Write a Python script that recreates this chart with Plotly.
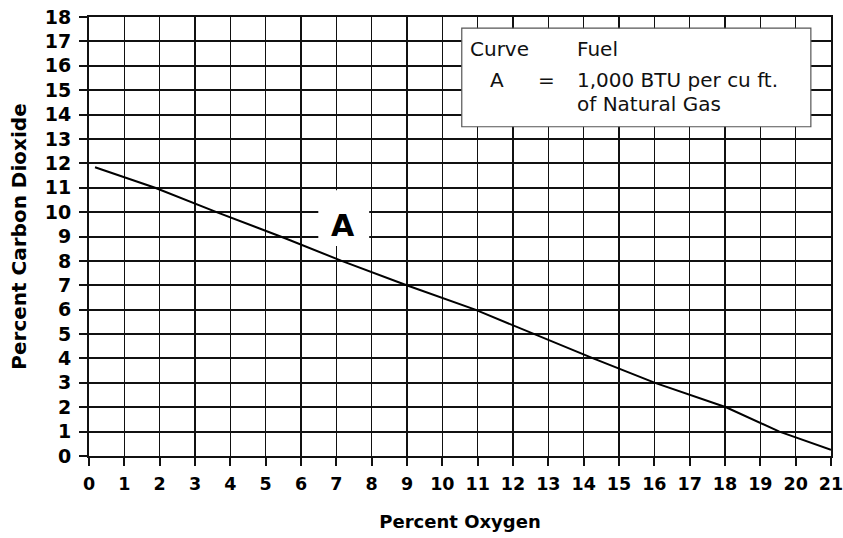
import plotly.graph_objects as go

# Data
oxygen = [0.17, 1.87, 3.61, 5.55, 7.15, 8.99, 10.93, 12.62, 14.27, 16.02, 18.03, 19.54, 21.0]
co2 = [11.84, 11.0, 10.0, 8.93, 8.0, 7.0, 6.0, 5.0, 4.0, 3.0, 2.0, 1.0, 0.25]
x_ticks = list(range(0, 22))
y_ticks = list(range(0, 19))
legend_rows = ["Curve", "A", "=", "Fuel", "1,000 BTU per cu ft.", "of Natural Gas"]
curve_label = "A"

W, H = 843, 538
L, R, T, B = 89, 12, 17, 82

fig = go.Figure()
fig.add_trace(go.Scatter(x=oxygen, y=co2, mode="lines",
                         line=dict(color="#000000", width=2), hoverinfo="skip",
                         showlegend=False))

font_family = "DejaVu Sans, Verdana, sans-serif"

fig.update_layout(
    width=W, height=H,
    margin=dict(l=L, r=R, t=T, b=B, pad=0, autoexpand=False),
    paper_bgcolor="white", plot_bgcolor="white",
    font=dict(family=font_family, color="#000000"),
    xaxis=dict(range=[0, 21], tickvals=x_ticks, ticktext=[str(v) for v in x_ticks],
               showgrid=True, gridcolor="#111111", gridwidth=1.5,
               zeroline=False, showline=True, mirror=True, linecolor="#111111", linewidth=2,
               ticks="outside", ticklen=8, tickwidth=2, tickcolor="#111111",
               ticklabelstandoff=3, ticklabeloverflow="allow",
               tickfont=dict(size=17.5, family=font_family, weight="bold", color="#000000"),
               title=dict(text="<b>Percent Oxygen</b>", font=dict(size=18, color="#000000"), standoff=22),
               automargin=False, fixedrange=True),
    yaxis=dict(range=[0, 18], tickvals=y_ticks, ticktext=[str(v) for v in y_ticks],
               showgrid=True, gridcolor="#111111", gridwidth=2,
               zeroline=False, showline=True, mirror=True, linecolor="#111111", linewidth=2,
               ticks="outside", ticklen=8, tickwidth=2, tickcolor="#111111",
               ticklabelstandoff=4, ticklabeloverflow="allow",
               tickfont=dict(size=19, family=font_family, weight="bold", color="#000000"),
               title=dict(text="<b>Percent Carbon Dioxide</b>", font=dict(size=20, color="#000000"), standoff=13),
               automargin=False, fixedrange=True),
)

# Legend box
fig.add_shape(type="rect", xref="x", yref="y", x0=10.55, x1=20.43, y0=13.5, y1=17.54,
              fillcolor="white", line=dict(color="#555555", width=1.2), layer="above")
# Curve label background
fig.add_shape(type="rect", xref="x", yref="y", x0=6.49, x1=7.93, y0=8.61, y1=10.9,
              fillcolor="white", line=dict(width=0), layer="above")

leg_font = dict(size=20, family=font_family, color="#111111")
PW = W - L - R
PH = H - T - B
def px2x(px):
    return (px - L) / (PW / 21)
def py2y(py):
    return (H - B - py) / (PH / 18)

fig.add_annotation(x=px2x(467.5), y=py2y(49), text=legend_rows[0], xanchor="left", yanchor="middle",
                   showarrow=False, font=leg_font)
fig.add_annotation(x=px2x(497), y=py2y(80), text=legend_rows[1], xanchor="center", yanchor="middle",
                   showarrow=False, font=leg_font)
fig.add_annotation(x=px2x(546), y=py2y(80), text=legend_rows[2], xanchor="center", yanchor="middle",
                   showarrow=False, font=leg_font)
fig.add_annotation(x=px2x(575), y=py2y(49), text=legend_rows[3], xanchor="left", yanchor="middle",
                   showarrow=False, font=leg_font)
fig.add_annotation(x=px2x(575), y=py2y(80), text=legend_rows[4], xanchor="left", yanchor="middle",
                   showarrow=False, font=leg_font)
fig.add_annotation(x=px2x(575), y=py2y(103.5), text=legend_rows[5], xanchor="left", yanchor="middle",
                   showarrow=False, font=leg_font)

fig.add_annotation(x=7.2, y=9.47, text="<b>" + curve_label + "</b>", xanchor="center", yanchor="middle",
                   showarrow=False, font=dict(size=30, family=font_family, color="#000000"))

# remove the default 8px page margin so the figure fills the window exactly
fig.write_html("out.html", config={"displayModeBar": False, "staticPlot": True},
               post_script="document.body.style.margin='0';document.body.style.overflow='hidden';")
